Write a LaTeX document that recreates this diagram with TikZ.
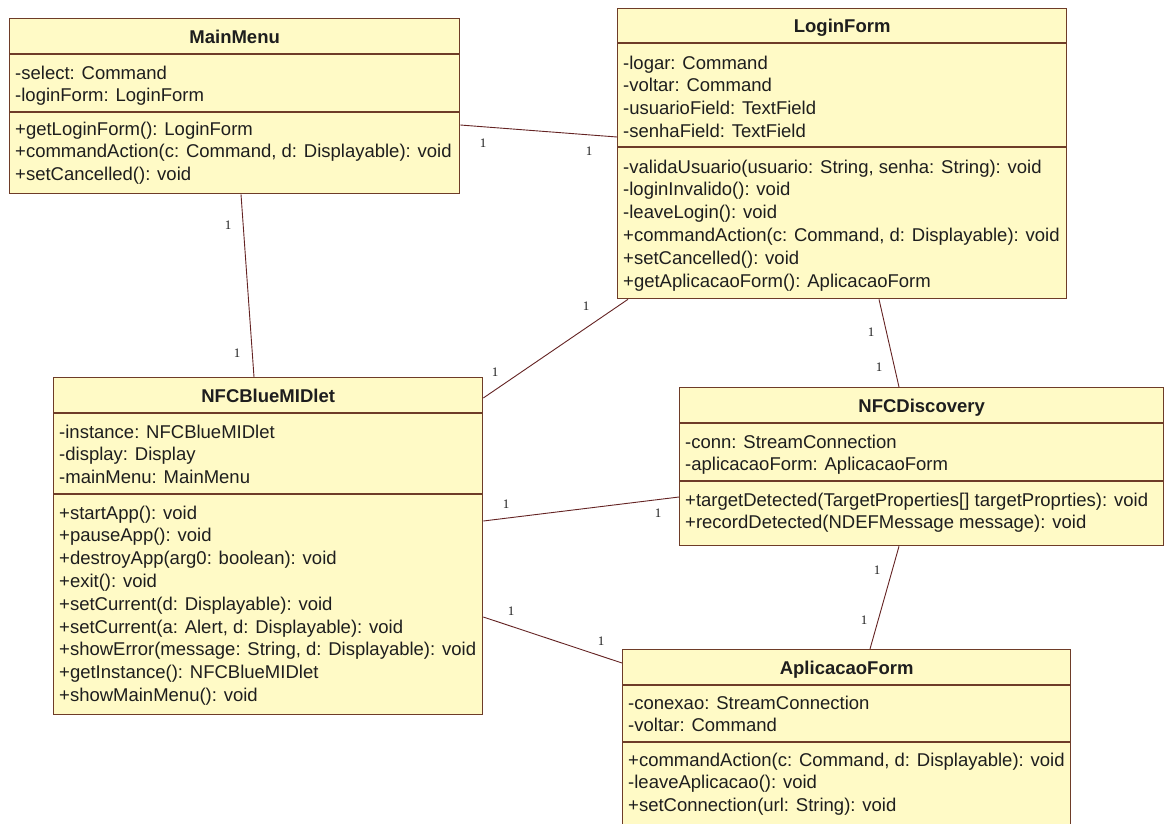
\documentclass[tikz,border=0pt]{standalone}
\usepackage{fontspec}
\setmainfont{Liberation Sans}
\newfontfamily\labelfont{Liberation Serif}
\definecolor{boxfill}{RGB}{255,250,198}
\definecolor{boxline}{RGB}{110,60,40}
\definecolor{assoc}{RGB}{100,35,35}
\definecolor{txtc}{RGB}{30,30,30}
\begin{document}
\begin{tikzpicture}[x=1pt,y=-1pt,
  classbox/.style={draw=boxline, fill=boxfill, line width=1.3pt, inner sep=0pt, anchor=north west},
  sepline/.style={draw=boxline, line width=1.1pt},
  txt/.style={font=\fontsize{18.5}{22.8}\selectfont, text=txtc, inner sep=0pt, anchor=base west},
  ttl/.style={font=\fontsize{18.5}{22.8}\selectfont\bfseries, text=txtc, inner sep=0pt, anchor=base},
  assocline/.style={draw=assoc, line width=0.9pt},
  mult/.style={font=\labelfont\fontsize{13}{15}\selectfont, text=txtc, inner sep=0pt}]
\useasboundingbox (0,0) rectangle (1171,823);
\fill[white] (0,0) rectangle (1171,823);
\clip (0,0) rectangle (1171,823);

% class boxes
\node[classbox, minimum width=450pt, minimum height=175pt] (mm) at (9,18) {};
\node[classbox, minimum width=449pt, minimum height=290pt] (lf) at (617,8) {};
\node[classbox, minimum width=429pt, minimum height=337pt] (nb) at (53,377) {};
\node[classbox, minimum width=484pt, minimum height=158pt] (nd) at (679,387) {};
\node[classbox, minimum width=448pt, minimum height=200pt] (af) at (622,649) {};

% compartment separators
\draw[sepline] (mm.west |- 0,54) -- (mm.east |- 0,54);
\draw[sepline] (mm.west |- 0,112) -- (mm.east |- 0,112);
\draw[sepline] (lf.west |- 0,43) -- (lf.east |- 0,43);
\draw[sepline] (lf.west |- 0,147) -- (lf.east |- 0,147);
\draw[sepline] (nb.west |- 0,413) -- (nb.east |- 0,413);
\draw[sepline] (nb.west |- 0,494) -- (nb.east |- 0,494);
\draw[sepline] (nd.west |- 0,423) -- (nd.east |- 0,423);
\draw[sepline] (nd.west |- 0,481) -- (nd.east |- 0,481);
\draw[sepline] (af.west |- 0,685) -- (af.east |- 0,685);
\draw[sepline] (af.west |- 0,742) -- (af.east |- 0,742);

% titles
\node[ttl] (mmt) at (mm.north |- 0,43) {MainMenu};
\node[ttl] (lft) at (lf.north |- 0,32) {LoginForm};
\node[ttl] (nbt) at (nb.north |- 0,402) {NFCBlueMIDlet};
\node[ttl] (ndt) at (nd.north |- 0,412) {NFCDiscovery};
\node[ttl] (aft) at (af.north |- 0,674) {AplicacaoForm};

% MainMenu
\foreach \t [count=\i] in {{-select: Command},{-loginForm: LoginForm}}
  \node[txt] (mma\i) at (15,{79+22.8*(\i-1)}) {\t};
\foreach \t [count=\i] in {{+getLoginForm(): LoginForm},{+commandAction(c: Command, d: Displayable): void},{+setCancelled(): void}}
  \node[txt] (mmm\i) at (15,{135+22.8*(\i-1)}) {\t};

% LoginForm
\foreach \t [count=\i] in {{-logar: Command},{-voltar: Command},{-usuarioField: TextField},{-senhaField: TextField}}
  \node[txt] (lfa\i) at (623,{69+22.8*(\i-1)}) {\t};
\foreach \t [count=\i] in {{-validaUsuario(usuario: String, senha: String): void},{-loginInvalido(): void},{-leaveLogin(): void},{+commandAction(c: Command, d: Displayable): void},{+setCancelled(): void},{+getAplicacaoForm(): AplicacaoForm}}
  \node[txt] (lfm\i) at (623,{173+22.8*(\i-1)}) {\t};

% NFCBlueMIDlet
\foreach \t [count=\i] in {{-instance: NFCBlueMIDlet},{-display: Display},{-mainMenu: MainMenu}}
  \node[txt] (nba\i) at (59,{438+22.8*(\i-1)}) {\t};
\foreach \t [count=\i] in {{+startApp(): void},{+pauseApp(): void},{+destroyApp(arg0: boolean): void},{+exit(): void},{+setCurrent(d: Displayable): void},{+setCurrent(a: Alert, d: Displayable): void},{+showError(message: String, d: Displayable): void},{+getInstance(): NFCBlueMIDlet},{+showMainMenu(): void}}
  \node[txt] (nbm\i) at (59,{519+22.8*(\i-1)}) {\t};

% NFCDiscovery
\foreach \t [count=\i] in {{-conn: StreamConnection},{-aplicacaoForm: AplicacaoForm}}
  \node[txt] (nda\i) at (685,{448+22.8*(\i-1)}) {\t};
\foreach \t [count=\i] in {{+targetDetected(TargetProperties[] targetProprties): void},{+recordDetected(NDEFMessage message): void}}
  \node[txt] (ndm\i) at (685,{506+22.8*(\i-1)}) {\t};

% AplicacaoForm
\foreach \t [count=\i] in {{-conexao: StreamConnection},{-voltar: Command}}
  \node[txt] (afa\i) at (628,{709+22.8*(\i-1)}) {\t};
\foreach \t [count=\i] in {{+commandAction(c: Command, d: Displayable): void},{-leaveAplicacao(): void},{+setConnection(url: String): void}}
  \node[txt] (afm\i) at (628,{766+22.8*(\i-1)}) {\t};

% associations
\draw[assocline] (mm.east |- 0,125) -- (lf.west |- 0,137);
\draw[assocline] (241,0 |- mm.south) -- (254,0 |- nb.north);
\draw[assocline] (628,0 |- lf.south) -- (nb.east |- 0,398);
\draw[assocline] (879,0 |- lf.south) -- (899,0 |- nd.north);
\draw[assocline] (nb.east |- 0,521) -- (nd.west |- 0,497);
\draw[assocline] (nb.east |- 0,617) -- (af.west |- 0,663);
\draw[assocline] (899,0 |- nd.south) -- (870,0 |- af.north);

% multiplicities
\node[mult] (l1) at (483,143) {1};
\node[mult] (l2) at (589,151) {1};
\node[mult] (l3) at (228,225) {1};
\node[mult] (l4) at (237,353) {1};
\node[mult] (l5) at (586,306) {1};
\node[mult] (l6) at (495,372) {1};
\node[mult] (l7) at (871,332) {1};
\node[mult] (l8) at (879,367) {1};
\node[mult] (l9) at (506,504) {1};
\node[mult] (l10) at (658,513) {1};
\node[mult] (l11) at (511,611) {1};
\node[mult] (l12) at (601,641) {1};
\node[mult] (l13) at (877,570) {1};
\node[mult] (l14) at (864,620) {1};
\end{tikzpicture}
\end{document}
